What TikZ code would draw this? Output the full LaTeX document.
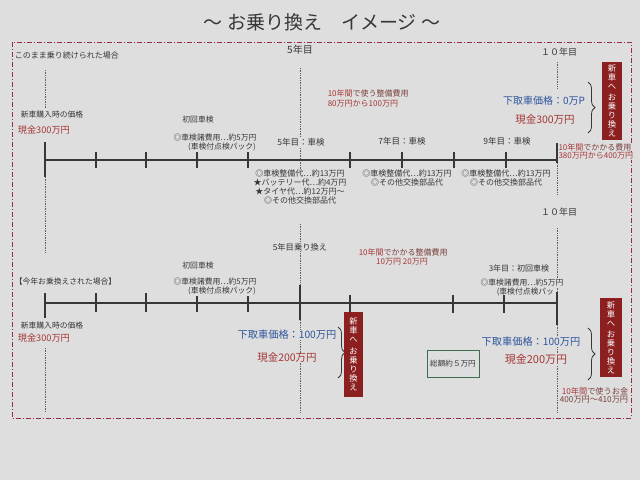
\documentclass[tikz,border=0pt]{standalone}
\usepackage{fontspec}
\setmainfont{Noto Sans CJK JP}
\usetikzlibrary{decorations.pathreplacing}
\definecolor{paper}{RGB}{222,222,222}
\definecolor{ink}{RGB}{55,55,55}
\definecolor{redt}{RGB}{165,55,55}
\definecolor{brownt}{RGB}{120,65,60}
\definecolor{bluet}{RGB}{45,85,155}
\definecolor{boxred}{RGB}{140,32,32}
\definecolor{bordc}{RGB}{150,45,65}
\definecolor{greenb}{RGB}{60,110,75}
\newcommand{\fs}[1]{\fontsize{#1}{#1}\selectfont}
\begin{document}
\begin{tikzpicture}[x=1pt,y=-1pt,
  txt/.style={font=\fs{8}, text=ink, inner sep=0.6pt, fill=paper},
  lft/.style={txt, anchor=west},
  redtxt/.style={txt, text=redt},
  bluetxt/.style={txt, text=bluet},
  multi/.style={txt, align=center, font=\fontsize{8}{9}\selectfont},
  axis/.style={line width=1.1pt, draw=ink},
  tick/.style={line width=1.1pt, draw=ink},
  guide/.style={densely dotted, line width=0.7pt, draw=ink!80},
  vbox/.style={fill=boxred, text=white, align=center, inner sep=0pt,
    font=\fontsize{8.3}{9}\selectfont},
  brc/.style={decorate, decoration={brace, amplitude=7pt}, line width=0.8pt, draw=ink},
  frame/.style={draw=bordc, line width=0.8pt, dash pattern=on 5pt off 2pt on 1pt off 2pt}
]
\fill[paper] (0,0) rectangle (640,480);
\useasboundingbox (0,0) rectangle (640,480);

% title
\node[txt, font=\fs{19}] (title) at (322,22) {～ お乗り換え　イメージ ～};

% frame
\draw[frame] (12,42) rectangle (631,418);

% ---------- guide lines (dotted) ----------
\coordinate (g45a) at (45,70);   \coordinate (g45b) at (45,108);
\coordinate (g45c) at (45,177);  \coordinate (g45d) at (45,253);
\coordinate (g45e) at (45,348);  \coordinate (g45f) at (45,412);
\draw[guide] (g45a) -- (g45b);
\draw[guide] (g45c) -- (g45d);
\draw[guide] (g45e) -- (g45f);
\coordinate (g300a) at (300,68);  \coordinate (g300b) at (300,178);
\coordinate (g300c) at (300,224); \coordinate (g300d) at (300,286);
\coordinate (g300e) at (300,320); \coordinate (g300f) at (300,413);
\draw[guide] (g300a) -- (g300b);
\draw[guide] (g300c) -- (g300d);
\draw[guide] (g300e) -- (g300f);
\coordinate (g557a) at (557,62);  \coordinate (g557b) at (557,88);
\coordinate (g557c) at (557,163); \coordinate (g557d) at (557,194);
\coordinate (g557e) at (557,228); \coordinate (g557f) at (557,292);
\coordinate (g557g) at (557,325); \coordinate (g557h) at (557,413);
\draw[guide] (g557a) -- (g557b);
\draw[guide] (g557c) -- (g557d);
\draw[guide] (g557e) -- (g557f);
\draw[guide] (g557g) -- (g557h);

% ---------- top timeline ----------
\coordinate (t1s) at (45,160); \coordinate (t1e) at (557,160);
\draw[axis] (t1s) -- (t1e);
\draw[tick] (45,142) -- (45,177);
\draw[tick] (557,143) -- (557,163);
\foreach \x in {96,146,197,248,350,402,454,506}
  \draw[tick] (\x,152) -- (\x,168);

% top texts
\node[lft] (case1) at (14,55) {このまま乗り続けられた場合};
\node[txt, font=\fs{10}] (y5) at (300,50) {5年目};
\node[txt, font=\fs{9}] (y10a) at (559,52) {１０年目};
\node[lft, font=\fs{7.8}] (buy1) at (20,115) {新車購入時の価格};
\node[lft, text=redt, font=\fs{9.2}] (cash1) at (17,130) {現金300万円};
\node[txt, font=\fs{7.8}] (first1) at (198,120) {初回車検};
\node[txt, font=\fs{7.8}] (fee1) at (215,138) {◎車検諸費用…約5万円};
\node[txt, font=\fs{7.8}] (pack1) at (222,147) {(車検付点検パック)};
\node[txt, font=\fs{8.5}] (y5s) at (301,142) {5年目：車検};
\node[txt, font=\fs{8.5}] (y7s) at (402,141) {7年目：車検};
\node[txt, font=\fs{8.5}] (y9s) at (507,141) {9年目：車検};
\node[multi] (c5) at (300,187) {◎車検整備代…約13万円\\★バッテリー代…約4万円\\★タイヤ代…約12万円～\\◎その他交換部品代};
\node[multi] (c7) at (407,178) {◎車検整備代…約13万円\\◎その他交換部品代};
\node[multi] (c9) at (506,178) {◎車検整備代…約13万円\\◎その他交換部品代};
\node[lft, text=brownt] (m1a) at (327,93) {{\color{redt}10年間}で使う整備費用};
\node[lft, text=redt] (m1b) at (327,104) {80万円から100万円};
\node[bluetxt, font=\fs{10}] (trade1) at (544,101) {下取車価格：0万P};
\node[redtxt, font=\fs{10.5}] (cash1r) at (545,120) {現金300万円};
\coordinate (br1a) at (588,82); \coordinate (br1b) at (588,133);
\draw[brc] (br1a) -- (br1b);
\node[vbox, minimum width=20pt, minimum height=78pt] (nb1) at (612,101)
  {新\\車\\へ\\[2pt]お\\乗\\り\\換\\え};
\node[lft, text=brownt, inner sep=0.3pt] (tot1a) at (558,147) {{\color{redt}10年間}でかかる費用};
\node[lft, text=redt, inner sep=0.3pt] (tot1b) at (558,156) {380万円から400万円};

% ---------- middle ----------
\node[txt, font=\fs{9}] (y10b) at (559,212) {１０年目};
\node[txt, font=\fs{8.3}] (sw5) at (300,247) {5年目乗り換え};
\node[lft, text=brownt] (m2a) at (358,252) {{\color{redt}10年間}でかかる整備費用};
\node[redtxt] (m2b) at (402,262) {10万円~20万円};

% ---------- bottom timeline ----------
\coordinate (t2s) at (45,303); \coordinate (t2e) at (557,303);
\draw[axis] (t2s) -- (t2e);
\draw[tick] (45,293) -- (45,318);
\draw[tick] (300,285) -- (300,320);
\draw[tick] (557,292) -- (557,325);
\draw[tick] (350,295) -- (350,312);
\foreach \x in {96,146,197,248}
  \draw[tick] (\x,293) -- (\x,312);
\foreach \x in {453,504}
  \draw[tick] (\x,295) -- (\x,313);

\node[lft, font=\fs{7.8}] (case2) at (14,282) {【今年お乗換えされた場合】};
\node[txt, font=\fs{7.8}] (first2) at (198,266) {初回車検};
\node[txt, font=\fs{7.8}] (fee2) at (215,282) {◎車検諸費用…約5万円};
\node[txt, font=\fs{7.8}] (pack2) at (222,291) {(車検付点検パック)};
\node[txt, font=\fs{8}] (y3s) at (519,268) {3年目：初回車検};
\node[txt, font=\fs{7.8}] (fee3) at (522,283) {◎車検諸費用…約5万円};
\node[lft, font=\fs{7.8}, fill=none] (pack3) at (496,292) {(車検付点検パッ};
\node[lft, font=\fs{7.8}] (buy2) at (20,326) {新車購入時の価格};
\node[lft, text=redt, font=\fs{9.2}] (cash2) at (17,338) {現金300万円};
\node[bluetxt, font=\fs{10.2}] (trade2) at (287,335) {下取車価格：100万円};
\node[redtxt, font=\fs{10.5}] (cash2r) at (287,358) {現金200万円};
\coordinate (br2a) at (338,327); \coordinate (br2b) at (338,378);
\draw[brc] (br2a) -- (br2b);
\node[vbox, minimum width=19pt, minimum height=85pt] (nb2) at (353.5,354.5)
  {新\\車\\へ\\[3pt]お\\乗\\り\\換\\え};
\node[txt, draw=greenb, line width=0.9pt, font=\fs{7.6}, minimum width=52pt,
  minimum height=27pt] (sum) at (453,363.5) {総額約５万円};
\node[bluetxt, font=\fs{10.2}] (trade3) at (531,342) {下取車価格：100万円};
\node[redtxt, font=\fs{11}] (cash3) at (536,359) {現金200万円};
\coordinate (br3a) at (588,328); \coordinate (br3b) at (588,380);
\draw[brc] (br3a) -- (br3b);
\node[vbox, minimum width=22pt, minimum height=79pt] (nb3) at (611,337.5)
  {新\\車\\へ\\[2pt]お\\乗\\り\\換\\え};
\node[txt, text=brownt, font=\fs{8.2}, inner sep=0.3pt] (tot2a) at (595,391) {{\color{redt}10年間}で使うお金};
\node[txt, text=brownt, font=\fs{8.2}, inner sep=0.3pt] (tot2b) at (594,400) {400万円～410万円};
\end{tikzpicture}
\end{document}
